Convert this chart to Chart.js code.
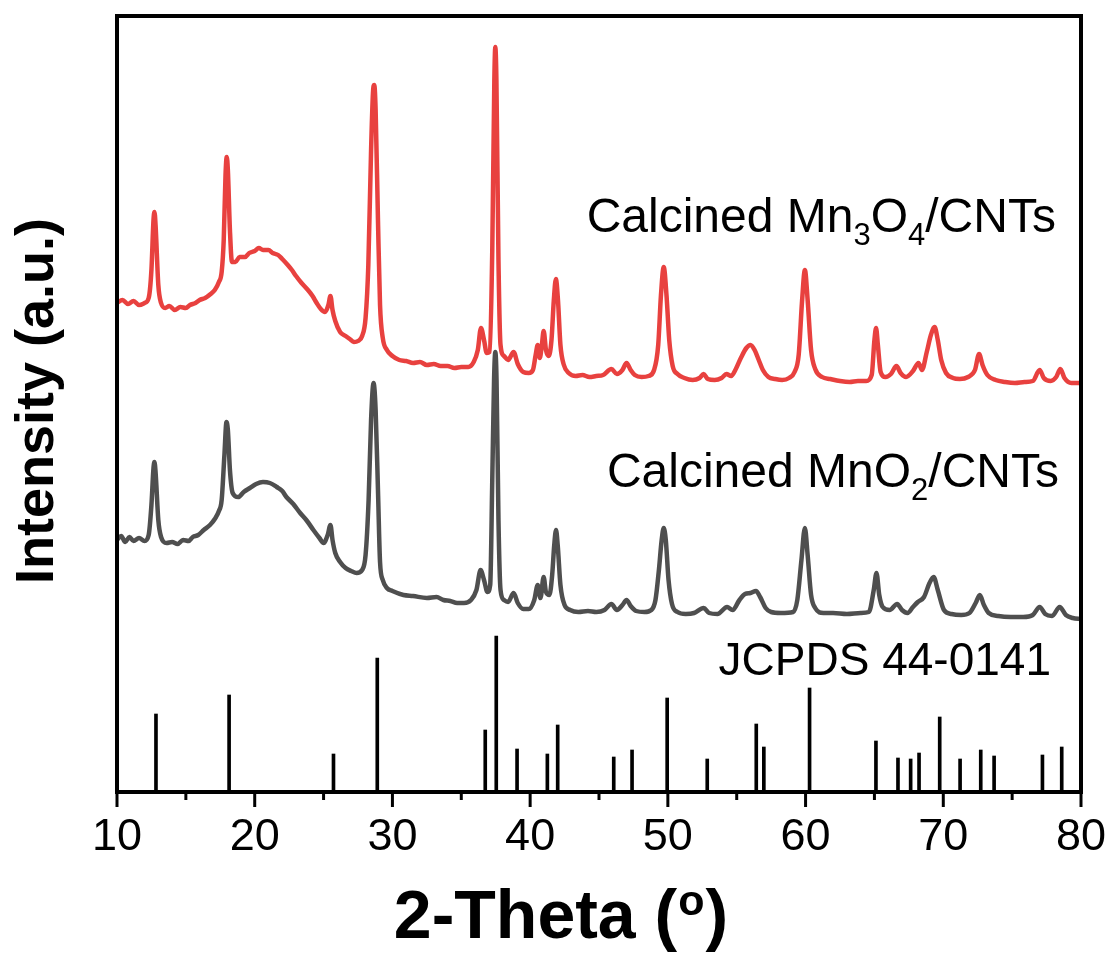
<!DOCTYPE html>
<html>
<head>
<meta charset="utf-8">
<script src="https://cdn.jsdelivr.net/npm/chart.js@4"></script>
<style>
  html, body { margin: 0; padding: 0; background: #fff; }
  canvas { display: block; }
</style>
</head>
<body>
<canvas id="xrdChart" width="1111" height="956"></canvas>
<script>
// XRD patterns, [2-theta, intensity (a.u.)]
const mn3o4Pattern = [
  [10.0,489],[10.4,492],[10.8,488],[11.2,491],[11.6,487],[12.0,489],[12.3,494],[12.5,522],[12.65,572],[12.72,580],
  [12.8,567],[13.0,507],[13.2,489],[13.5,484],[13.8,486],[14.2,482],[14.6,485],[15.0,484],[15.3,487],[15.7,489],
  [16.0,492],[16.4,494],[16.8,498],[17.1,502],[17.4,510],[17.6,520],[17.75,552],[17.88,617],[17.97,635],[18.05,622],
  [18.2,562],[18.35,530],[18.6,530],[18.9,535],[19.3,535],[19.6,539],[20.0,541],[20.3,544],[20.6,542],[21.0,542],
  [21.3,539],[21.7,537],[22.0,533],[22.4,527],[22.7,522],[23.0,516],[23.4,509],[23.8,503],[24.2,496],[24.5,489],
  [24.8,483],[25.1,480],[25.35,487],[25.5,496],[25.65,482],[25.85,471],[26.2,460],[26.6,456],[26.9,453],[27.2,450],
  [27.5,451],[27.8,456],[28.05,474],[28.25,527],[28.45,642],[28.6,702],[28.68,707],[28.78,682],[28.95,572],[29.1,487],
  [29.3,454],[29.6,442],[30.0,436],[30.5,432],[31.0,431],[31.5,429],[32.0,430],[32.5,427],[33.0,428],[33.5,426],
  [34.0,426],[34.5,424],[35.0,425],[35.5,425],[35.9,430],[36.2,442],[36.43,464],[36.65,452],[36.85,439],[37.05,440],
  [37.25,542],[37.4,712],[37.47,745],[37.55,712],[37.7,532],[37.85,447],[38.1,436],[38.4,432],[38.8,440],[39.1,428],
  [39.5,420],[39.9,419],[40.2,422],[40.4,437],[40.55,447],[40.7,434],[40.85,447],[40.98,461],[41.15,442],[41.35,436],
  [41.55,452],[41.72,492],[41.87,513],[42.02,492],[42.2,447],[42.45,427],[42.8,419],[43.3,416],[43.8,417],[44.3,415],
  [44.8,416],[45.3,417],[45.9,423],[46.3,418],[46.7,422],[47.0,429],[47.3,422],[47.6,417],[48.1,415],[48.6,416],
  [49.0,422],[49.3,447],[49.5,497],[49.7,525],[49.9,497],[50.1,452],[50.35,426],[50.7,418],[51.2,414],[51.8,412],
  [52.3,414],[52.6,418],[52.9,413],[53.4,412],[53.9,414],[54.25,418],[54.6,416],[54.9,422],[55.3,434],[55.7,444],
  [56.0,447],[56.3,442],[56.6,432],[56.9,422],[57.3,415],[57.8,413],[58.3,412],[58.8,414],[59.2,420],[59.5,437],
  [59.75,492],[59.95,522],[60.15,492],[60.4,442],[60.7,423],[61.2,415],[61.8,413],[62.5,411],[63.2,410],[63.8,411],
  [64.4,411],[64.8,417],[65.0,452],[65.12,464],[65.25,447],[65.45,420],[65.8,415],[66.2,418],[66.6,426],[66.9,419],
  [67.3,415],[67.8,421],[68.2,429],[68.45,422],[68.8,440],[69.1,457],[69.37,465],[69.6,452],[69.85,432],[70.2,419],
  [70.7,414],[71.2,413],[71.8,415],[72.3,422],[72.6,438],[72.85,427],[73.2,417],[73.8,412],[74.5,410],[75.2,409],
  [75.9,410],[76.5,411],[77.0,422],[77.3,414],[77.8,411],[78.2,415],[78.5,423],[78.8,414],[79.3,409],[80.0,409]
];

const mno2Pattern = [
  [10.0,252],[10.3,256],[10.6,250],[10.9,255],[11.2,251],[11.6,254],[12.0,251],[12.3,257],[12.5,287],[12.65,324],
  [12.72,330],[12.8,320],[13.0,272],[13.2,255],[13.6,249],[14.0,250],[14.4,248],[14.8,252],[15.2,251],[15.5,255],
  [15.9,257],[16.3,262],[16.75,267],[17.1,273],[17.4,281],[17.6,292],[17.8,337],[17.95,370],[18.05,362],[18.2,322],
  [18.4,299],[18.8,295],[19.2,300],[19.65,304],[20.1,308],[20.6,310],[21.1,309],[21.6,305],[22.0,301],[22.3,295],
  [22.8,288],[23.3,279],[23.8,271],[24.26,262],[24.7,254],[25.0,249],[25.3,257],[25.5,267],[25.65,252],[25.85,239],
  [26.2,230],[26.6,224],[27.0,221],[27.4,219],[27.8,222],[28.05,237],[28.27,292],[28.45,372],[28.63,409],[28.78,382],
  [28.95,302],[29.1,230],[29.3,212],[29.6,204],[30.0,201],[30.8,197],[31.5,196],[32.5,194],[33.2,195],[33.7,192],
  [34.2,191],[34.7,189],[35.2,189],[35.7,192],[36.1,202],[36.4,222],[36.65,212],[36.9,200],[37.1,207],[37.25,312],
  [37.38,412],[37.47,440],[37.56,412],[37.7,272],[37.85,202],[38.1,192],[38.4,190],[38.8,199],[39.1,189],[39.5,183],
  [39.9,183],[40.3,192],[40.55,207],[40.75,194],[40.98,215],[41.15,200],[41.4,197],[41.6,217],[41.75,247],[41.88,262],
  [42.0,247],[42.2,207],[42.5,187],[42.9,182],[43.5,180],[44.2,181],[44.8,180],[45.4,182],[45.9,188],[46.3,182],
  [46.7,187],[47.0,192],[47.3,186],[47.7,181],[48.3,180],[48.8,182],[49.1,192],[49.35,222],[49.55,252],[49.7,264],
  [49.85,252],[50.05,212],[50.3,188],[50.7,180],[51.3,178],[51.9,179],[52.6,184],[53.0,179],[53.6,178],[54.3,185],
  [54.7,182],[55.2,192],[55.6,198],[56.0,199],[56.4,201],[56.7,195],[57.1,184],[57.5,180],[58.2,179],[59.1,180],
  [59.4,192],[59.7,232],[59.95,264],[60.15,237],[60.4,197],[60.7,184],[61.3,179],[62.0,179],[63.0,178],[64.0,179],
  [64.6,180],[64.95,202],[65.15,219],[65.35,197],[65.6,185],[66.1,182],[66.65,188],[67.0,182],[67.4,179],[67.8,185],
  [68.15,190],[68.6,195],[69.0,209],[69.3,215],[69.6,202],[70.05,182],[70.6,178],[71.3,177],[71.9,179],[72.35,189],
  [72.65,197],[72.95,187],[73.3,179],[74.0,176],[74.9,175],[75.8,175],[76.5,177],[77.0,185],[77.4,178],[77.9,176],
  [78.45,185],[78.9,177],[79.4,174],[80.0,173]
];

// JCPDS 44-0141 reference lines
const refPositions = [12.83, 18.14, 25.72, 28.9, 36.74, 37.54, 39.05, 41.25, 42.0, 46.07, 47.4, 49.95, 52.86,
  56.42, 56.97, 60.29, 65.11, 66.71, 67.63, 68.24, 69.74, 71.22, 72.72, 73.69, 77.2, 78.6];
const refIntensity = [78, 97, 38, 134, 62, 156, 43, 38, 67, 35, 42, 94, 33,
  68, 45, 104, 51, 34, 33, 39, 75, 33, 42, 36, 37, 45];

const majorTicks = [10, 20, 30, 40, 50, 60, 70, 80];
const minorTicks = [15, 25, 35, 45, 55, 65, 75];

const FONT = "'Liberation Sans', Arial, sans-serif";

// text labels: runs with optional subscripts
const labels = [
  { x: 78.18, y: 560, size: 48, runs: [['Calcined Mn'], ['3', 1], ['O'], ['4', 1], ['/CNTs']] },
  { x: 78.40, y: 305, size: 48, runs: [['Calcined MnO'], ['2', 1], ['/CNTs']] },
  { x: 77.82, y: 117, size: 46, runs: [['JCPDS 44-0141']] }
];

const decor = {
  id: 'decor',
  afterDatasetsDraw(chart) {
    const { ctx, chartArea: a, scales: { x, y } } = chart;
    ctx.save();
    ctx.strokeStyle = '#000';
    ctx.fillStyle = '#000';

    // ticks (outside, below the axis)
    ctx.lineWidth = 3;
    const tick = (v, len) => {
      const px = x.getPixelForValue(v);
      ctx.beginPath();
      ctx.moveTo(px, a.bottom);
      ctx.lineTo(px, a.bottom + len);
      ctx.stroke();
    };
    majorTicks.forEach(v => tick(v, 15));
    minorTicks.forEach(v => tick(v, 8));

    // frame
    ctx.lineWidth = 4;
    ctx.strokeRect(a.left, a.top, a.right - a.left, a.bottom - a.top);

    // curve labels
    ctx.textBaseline = 'alphabetic';
    ctx.textAlign = 'left';
    labels.forEach(l => {
      const subSize = Math.round(l.size * 0.64);
      const fontOf = r => (r[1] ? subSize : l.size) + 'px ' + FONT;
      let w = 0;
      l.runs.forEach(r => {
        ctx.font = fontOf(r);
        w += ctx.measureText(r[0]).width;
      });
      let cx = x.getPixelForValue(l.x) - w;
      const by = y.getPixelForValue(l.y);
      l.runs.forEach(r => {
        ctx.font = fontOf(r);
        ctx.fillText(r[0], cx, r[1] ? by + 13 : by);
        cx += ctx.measureText(r[0]).width;
      });
    });

    // x axis title with raised "o"
    const t1 = '2-Theta (', t2 = 'o', t3 = ')';
    const big = 'bold 68px ' + FONT, small = 'bold 43px ' + FONT;
    ctx.font = big;
    const w1 = ctx.measureText(t1).width, w3 = ctx.measureText(t3).width;
    ctx.font = small;
    const w2 = ctx.measureText(t2).width;
    let tx = 560 - (w1 + w2 + w3) / 2;
    const ty = 938;
    ctx.font = big;
    ctx.fillText(t1, tx, ty);
    ctx.font = small;
    ctx.fillText(t2, tx + w1 + 1, ty - 23);
    ctx.font = big;
    ctx.fillText(t3, tx + w1 + w2 + 2, ty);

    // y axis title
    ctx.save();
    ctx.translate(53, 401);
    ctx.rotate(-Math.PI / 2);
    ctx.textAlign = 'center';
    ctx.font = 'bold 54px ' + FONT;
    ctx.fillText('Intensity (a.u.)', 0, 0);
    ctx.restore();

    ctx.restore();
  }
};

new Chart(document.getElementById('xrdChart'), {
  type: 'line',
  data: {
    datasets: [
      {
        label: 'Calcined MnO2/CNTs',
        data: mno2Pattern.map(p => ({ x: p[0], y: p[1] })),
        borderColor: '#4f4f4f',
        borderWidth: 4.5,
        pointRadius: 0,
        cubicInterpolationMode: 'monotone'
      },
      {
        label: 'Calcined Mn3O4/CNTs',
        data: mn3o4Pattern.map(p => ({ x: p[0], y: p[1] })),
        borderColor: '#e8413f',
        borderWidth: 4.5,
        pointRadius: 0,
        cubicInterpolationMode: 'monotone'
      },
      {
        type: 'bar',
        label: 'JCPDS 44-0141',
        data: refPositions.map((p, i) => ({ x: p, y: refIntensity[i] })),
        backgroundColor: '#000',
        barThickness: 3
      }
    ]
  },
  options: {
    responsive: false,
    animation: false,
    devicePixelRatio: 1,
    layout: { padding: { left: 117, right: 30, top: 16, bottom: 0 } },
    plugins: { legend: { display: false }, tooltip: { enabled: false } },
    scales: {
      x: {
        type: 'linear',
        min: 10,
        max: 80,
        offset: false,
        afterBuildTicks: s => { s.ticks = majorTicks.map(v => ({ value: v })); },
        afterFit: s => { s.height = 164; },
        ticks: {
          color: '#000',
          font: { family: FONT, size: 45 },
          padding: 4,
          maxRotation: 0,
          autoSkip: false
        },
        grid: {
          drawOnChartArea: false,
          drawTicks: true,
          tickLength: 15,
          tickWidth: 3,
          tickColor: 'rgba(0,0,0,0)'
        },
        border: { display: true, color: '#000', width: 4 }
      },
      y: {
        display: false,
        min: 0,
        max: 776
      }
    }
  },
  plugins: [decor]
});
</script>
</body>
</html>
